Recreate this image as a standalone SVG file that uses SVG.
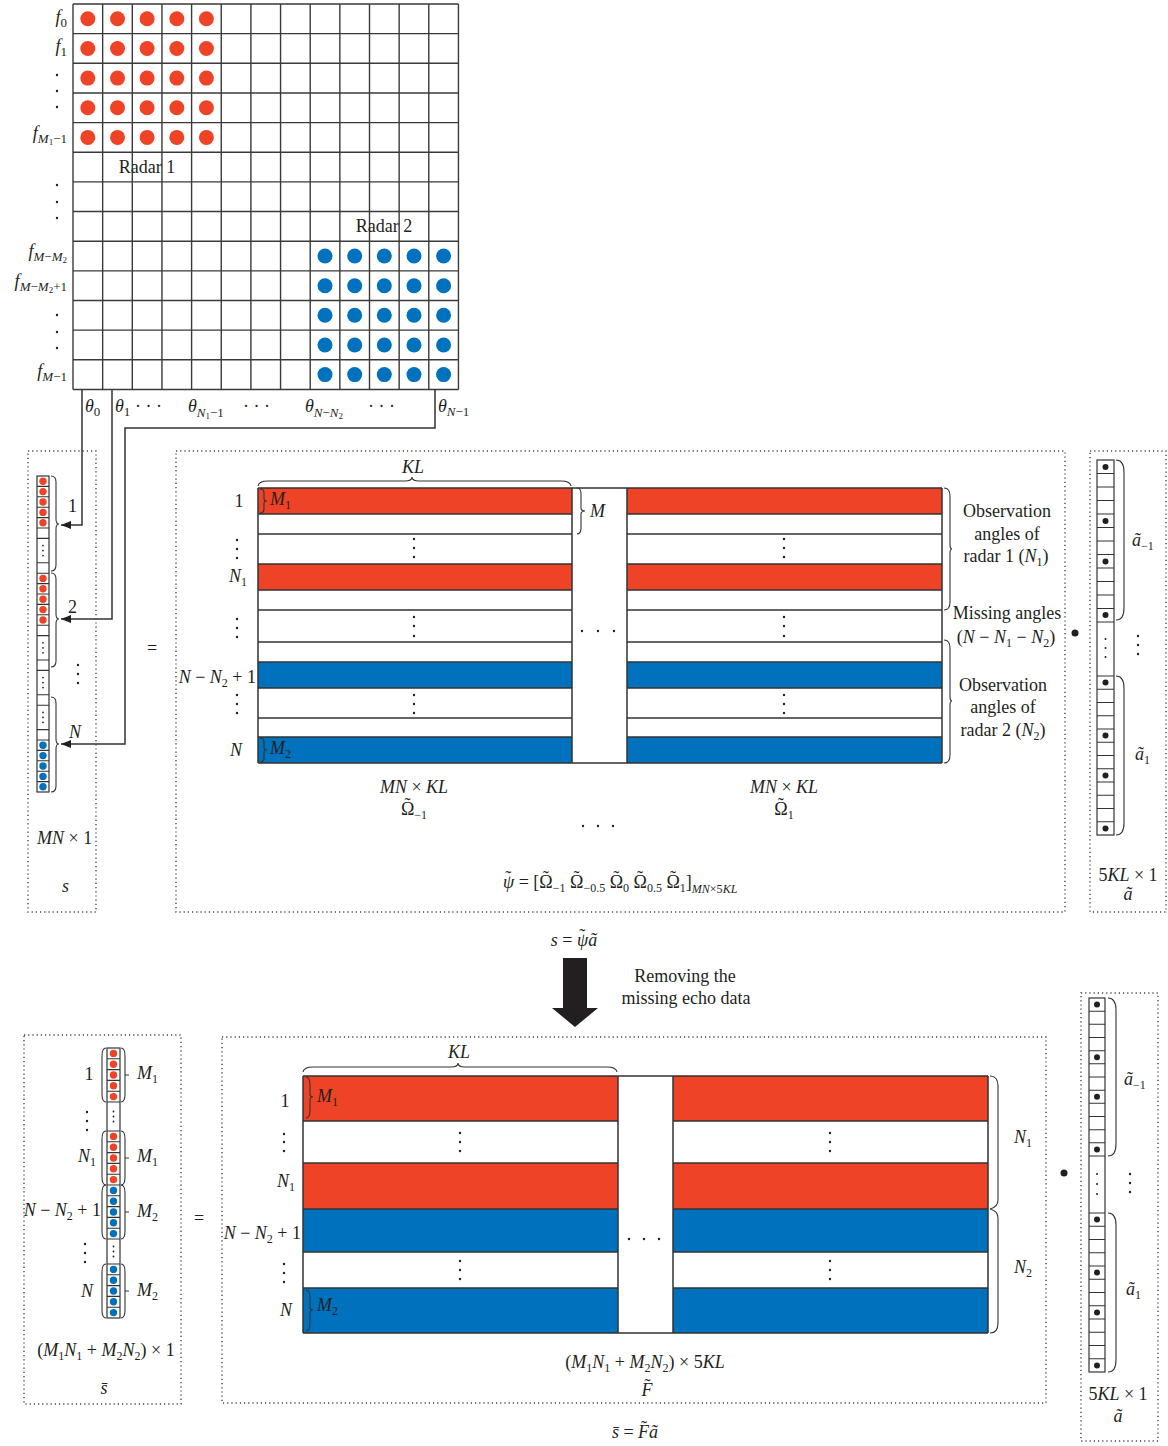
<svg xmlns="http://www.w3.org/2000/svg" width="1168" height="1446" viewBox="0 0 1168 1446">
<style>
.t{font-family:"Liberation Serif",serif;fill:#231f20;font-size:18px}
.i{font-style:italic}
.s{font-size:12px}
.ss{font-size:9px}
.c{text-anchor:middle}
.e{text-anchor:end}
.r{fill:#EE4326}
.b{fill:#0071BC}
.ln{stroke:#333;stroke-width:1.5;fill:none}
.gl{stroke:#3a3a3a;stroke-width:1.4;fill:none}
.thin{stroke:#333;stroke-width:1.1;fill:none}
.box{fill:none;stroke:#444;stroke-width:1.4;stroke-dasharray:1.2 3}
.dk{fill:#231f20}
.cell{fill:#fff;stroke:#333;stroke-width:1.2}
</style>
<defs>
<marker id="ah" viewBox="0 0 10 8" refX="10" refY="4" markerWidth="10" markerHeight="8" markerUnits="userSpaceOnUse" orient="auto">
<path d="M0,0 L10,4 L0,8 Z" fill="#231f20"/>
</marker>
</defs>
<rect width="1168" height="1446" fill="#fff"/>

<!-- Top grid -->
<g id="grid">
<rect x="73" y="4" width="385.45" height="385.45" fill="#fff"/>
<g class="r">
<circle cx="87.8" cy="18.8" r="7.5"/><circle cx="117.5" cy="18.8" r="7.5"/><circle cx="147.1" cy="18.8" r="7.5"/><circle cx="176.8" cy="18.8" r="7.5"/><circle cx="206.4" cy="18.8" r="7.5"/>
<circle cx="87.8" cy="48.5" r="7.5"/><circle cx="117.5" cy="48.5" r="7.5"/><circle cx="147.1" cy="48.5" r="7.5"/><circle cx="176.8" cy="48.5" r="7.5"/><circle cx="206.4" cy="48.5" r="7.5"/>
<circle cx="87.8" cy="78.1" r="7.5"/><circle cx="117.5" cy="78.1" r="7.5"/><circle cx="147.1" cy="78.1" r="7.5"/><circle cx="176.8" cy="78.1" r="7.5"/><circle cx="206.4" cy="78.1" r="7.5"/>
<circle cx="87.8" cy="107.8" r="7.5"/><circle cx="117.5" cy="107.8" r="7.5"/><circle cx="147.1" cy="107.8" r="7.5"/><circle cx="176.8" cy="107.8" r="7.5"/><circle cx="206.4" cy="107.8" r="7.5"/>
<circle cx="87.8" cy="137.4" r="7.5"/><circle cx="117.5" cy="137.4" r="7.5"/><circle cx="147.1" cy="137.4" r="7.5"/><circle cx="176.8" cy="137.4" r="7.5"/><circle cx="206.4" cy="137.4" r="7.5"/>
</g>
<g class="b">
<circle cx="325" cy="256" r="7.5"/><circle cx="354.7" cy="256" r="7.5"/><circle cx="384.3" cy="256" r="7.5"/><circle cx="414" cy="256" r="7.5"/><circle cx="443.6" cy="256" r="7.5"/>
<circle cx="325" cy="285.7" r="7.5"/><circle cx="354.7" cy="285.7" r="7.5"/><circle cx="384.3" cy="285.7" r="7.5"/><circle cx="414" cy="285.7" r="7.5"/><circle cx="443.6" cy="285.7" r="7.5"/>
<circle cx="325" cy="315.3" r="7.5"/><circle cx="354.7" cy="315.3" r="7.5"/><circle cx="384.3" cy="315.3" r="7.5"/><circle cx="414" cy="315.3" r="7.5"/><circle cx="443.6" cy="315.3" r="7.5"/>
<circle cx="325" cy="345" r="7.5"/><circle cx="354.7" cy="345" r="7.5"/><circle cx="384.3" cy="345" r="7.5"/><circle cx="414" cy="345" r="7.5"/><circle cx="443.6" cy="345" r="7.5"/>
<circle cx="325" cy="374.6" r="7.5"/><circle cx="354.7" cy="374.6" r="7.5"/><circle cx="384.3" cy="374.6" r="7.5"/><circle cx="414" cy="374.6" r="7.5"/><circle cx="443.6" cy="374.6" r="7.5"/>
</g>
<path class="gl" d="M73,4V389.45M102.65,4V389.45M132.3,4V389.45M161.95,4V389.45M191.6,4V389.45M221.25,4V389.45M250.9,4V389.45M280.55,4V389.45M310.2,4V389.45M339.85,4V389.45M369.5,4V389.45M399.15,4V389.45M428.8,4V389.45M458.45,4V389.45"/>
<path class="gl" d="M73,4H458.45M73,33.65H458.45M73,63.3H458.45M73,92.95H458.45M73,122.6H458.45M73,152.25H458.45M73,181.9H458.45M73,211.55H458.45M73,241.2H458.45M73,270.85H458.45M73,300.5H458.45M73,330.15H458.45M73,359.8H458.45M73,389.45H458.45"/>
<text class="t c" x="147" y="173">Radar 1</text>
<text class="t c" x="384" y="232">Radar 2</text>
</g>

<g id="freq-labels">
<text class="t e" x="67" y="23"><tspan class="i">f</tspan><tspan font-size="13" dy="4">0</tspan></text>
<text class="t e" x="67" y="52"><tspan class="i">f</tspan><tspan font-size="13" dy="4">1</tspan></text>
<g class="dk"><circle cx="57" cy="75" r="1.2"/><circle cx="57" cy="91" r="1.2"/><circle cx="57" cy="107" r="1.2"/>
<circle cx="57" cy="185" r="1.2"/><circle cx="57" cy="202" r="1.2"/><circle cx="57" cy="218" r="1.2"/>
<circle cx="57" cy="315" r="1.2"/><circle cx="57" cy="332" r="1.2"/><circle cx="57" cy="348" r="1.2"/></g>
<text class="t e" x="67" y="139"><tspan class="i">f</tspan><tspan font-size="13" class="i" dy="4">M</tspan><tspan class="ss" dy="2">1</tspan><tspan font-size="13" dy="-2">−1</tspan></text>
<text class="t e" x="67" y="257"><tspan class="i">f</tspan><tspan font-size="13" class="i" dy="4">M</tspan><tspan font-size="13">−</tspan><tspan font-size="13" class="i">M</tspan><tspan class="ss" dy="2">2</tspan></text>
<text class="t e" x="67" y="287"><tspan class="i">f</tspan><tspan font-size="13" class="i" dy="4">M</tspan><tspan font-size="13">−</tspan><tspan font-size="13" class="i">M</tspan><tspan class="ss" dy="2">2</tspan><tspan font-size="13" dy="-2">+1</tspan></text>
<text class="t e" x="67" y="377"><tspan class="i">f</tspan><tspan font-size="13" class="i" dy="4">M</tspan><tspan font-size="13">−1</tspan></text>
</g>

<g id="angle-labels">
<text class="t" x="85" y="412"><tspan class="i">θ</tspan><tspan font-size="13" dy="4">0</tspan></text>
<text class="t" x="115" y="412"><tspan class="i">θ</tspan><tspan font-size="13" dy="4">1</tspan></text>
<text class="t" x="135" y="412">·   ·   ·</text>
<text class="t" x="188" y="412"><tspan class="i">θ</tspan><tspan font-size="13" class="i" dy="5">N</tspan><tspan class="ss" dy="2">1</tspan><tspan font-size="13" dy="-2">−1</tspan></text>
<text class="t" x="243" y="412">·   ·   ·</text>
<text class="t" x="305" y="412"><tspan class="i">θ</tspan><tspan font-size="13" class="i" dy="5">N</tspan><tspan font-size="13">−</tspan><tspan font-size="13" class="i">N</tspan><tspan class="ss" dy="2">2</tspan></text>
<text class="t" x="368" y="412">·   ·   ·</text>
<text class="t" x="438" y="412"><tspan class="i">θ</tspan><tspan font-size="13" class="i" dy="4">N</tspan><tspan font-size="13">−1</tspan></text>
</g>

<g id="connectors">
<path class="ln" d="M82,389.5V525H61" marker-end="url(#ah)"/>
<path class="ln" d="M112,389.5V619H61" marker-end="url(#ah)"/>
<path class="ln" d="M435,389.5V428H125V744H61" marker-end="url(#ah)"/>
</g>

<!-- s vector -->
<g id="s-vector">
<rect class="box" x="28" y="451" width="68" height="461"/>
<rect class="cell" x="37" y="476" width="12" height="316"/>
<path class="thin" d="M37,486.4h12M37,496.8h12M37,507.2h12M37,517.6h12M37,528h12M37,538.4h12M37,562.8h12M37,573.2h12M37,583.6h12M37,594h12M37,604.4h12M37,614.8h12M37,625.2h12M37,635.6h12M37,660h12M37,670.4h12M37,694.8h12M37,705.2h12M37,729.6h12M37,740h12M37,750.4h12M37,760.8h12M37,771.2h12M37,781.6h12"/>
<g class="r"><circle cx="43" cy="481.2" r="3.7"/><circle cx="43" cy="491.6" r="3.7"/><circle cx="43" cy="502" r="3.7"/><circle cx="43" cy="512.4" r="3.7"/><circle cx="43" cy="522.8" r="3.7"/>
<circle cx="43" cy="578.4" r="3.7"/><circle cx="43" cy="588.8" r="3.7"/><circle cx="43" cy="599.2" r="3.7"/><circle cx="43" cy="609.6" r="3.7"/><circle cx="43" cy="620" r="3.7"/></g>
<g class="b"><circle cx="43" cy="745.2" r="3.7"/><circle cx="43" cy="755.6" r="3.7"/><circle cx="43" cy="766" r="3.7"/><circle cx="43" cy="776.4" r="3.7"/><circle cx="43" cy="786.8" r="3.7"/></g>
<g class="dk"><circle cx="43" cy="545.6" r="0.9"/><circle cx="43" cy="550.6" r="0.9"/><circle cx="43" cy="555.6" r="0.9"/>
<circle cx="43" cy="642.8" r="0.9"/><circle cx="43" cy="647.8" r="0.9"/><circle cx="43" cy="652.8" r="0.9"/>
<circle cx="43" cy="677.6" r="0.9"/><circle cx="43" cy="682.6" r="0.9"/><circle cx="43" cy="687.6" r="0.9"/>
<circle cx="43" cy="712.4" r="0.9"/><circle cx="43" cy="717.4" r="0.9"/><circle cx="43" cy="722.4" r="0.9"/>
<circle cx="78" cy="665" r="1.2"/><circle cx="78" cy="674" r="1.2"/><circle cx="78" cy="683" r="1.2"/></g>
<path class="thin" d="M51,476Q56,476 56,482V519Q56,524 59,524Q56,524 56,529V565Q56,571 51,571"/>
<path class="thin" d="M51,573Q56,573 56,579V614Q56,619 59,619Q56,619 56,624V661Q56,667 51,667"/>
<path class="thin" d="M51,697Q56,697 56,703V739Q56,744 59,744Q56,744 56,749V786Q56,792 51,792"/>
<text class="t" x="68" y="512">1</text>
<text class="t" x="68" y="613">2</text>
<text class="t i" x="69" y="738">N</text>
<text class="t" x="37" y="844"><tspan class="i">MN</tspan> × 1</text>
<text class="t i" x="62" y="892">s</text>
</g>

<text class="t c" x="152" y="654">=</text>

<!-- Psi matrix -->
<g id="psi-matrix">
<rect class="box" x="176" y="451" width="889" height="461"/>
<g class="r"><rect x="258" y="488" width="314" height="26"/><rect x="258" y="564" width="314" height="26"/>
<rect x="627" y="488" width="315" height="26"/><rect x="627" y="564" width="315" height="26"/></g>
<g class="b"><rect x="258" y="662" width="314" height="26"/><rect x="258" y="737" width="314" height="26"/>
<rect x="627" y="662" width="315" height="26"/><rect x="627" y="737" width="315" height="26"/></g>
<path class="ln" d="M258,488H942M258,763H942M258,488V763M572,488V763M627,488V763M942,488V763"/>
<path class="ln" d="M258,514H572M258,534H572M258,564H572M258,590H572M258,610H572M258,642H572M258,662H572M258,688H572M258,718H572M258,737H572"/>
<path class="ln" d="M627,514H942M627,534H942M627,564H942M627,590H942M627,610H942M627,642H942M627,662H942M627,688H942M627,718H942M627,737H942"/>
<g class="dk">
<circle cx="414" cy="539" r="1.2"/><circle cx="414" cy="548" r="1.2"/><circle cx="414" cy="557" r="1.2"/>
<circle cx="414" cy="617" r="1.2"/><circle cx="414" cy="626" r="1.2"/><circle cx="414" cy="636" r="1.2"/>
<circle cx="414" cy="695" r="1.2"/><circle cx="414" cy="704" r="1.2"/><circle cx="414" cy="713" r="1.2"/>
<circle cx="784" cy="539" r="1.2"/><circle cx="784" cy="548" r="1.2"/><circle cx="784" cy="557" r="1.2"/>
<circle cx="784" cy="617" r="1.2"/><circle cx="784" cy="626" r="1.2"/><circle cx="784" cy="636" r="1.2"/>
<circle cx="784" cy="695" r="1.2"/><circle cx="784" cy="704" r="1.2"/><circle cx="784" cy="713" r="1.2"/>
<circle cx="237" cy="540" r="1.2"/><circle cx="237" cy="549" r="1.2"/><circle cx="237" cy="558" r="1.2"/>
<circle cx="237" cy="619" r="1.2"/><circle cx="237" cy="628" r="1.2"/><circle cx="237" cy="637" r="1.2"/>
<circle cx="237" cy="695" r="1.2"/><circle cx="237" cy="704" r="1.2"/><circle cx="237" cy="713" r="1.2"/>
<circle cx="582" cy="631" r="1.2"/><circle cx="598" cy="631" r="1.2"/><circle cx="614" cy="631" r="1.2"/>
</g>
<path class="thin" d="M258,486Q259,481 268,481H405Q412,481 412,477Q412,481 419,481H561Q570,481 571,486"/>
<path class="thin" d="M260,489Q264,489 264,493V499Q264,501 267,501Q264,501 264,503V509Q264,513 260,513"/>
<path class="thin" d="M260,738Q264,738 264,742V748Q264,750 267,750Q264,750 264,752V758Q264,762 260,762"/>
<path class="thin" d="M577,488Q581,488 581,494V508Q581,511 585,511Q581,511 581,514V528Q581,534 577,534"/>
<path class="thin" d="M944,488Q950,488 950,496V545Q950,549 952,549Q950,549 950,553V602Q950,610 944,610"/>
<path class="thin" d="M944,640Q950,640 950,648V697Q950,701 952,701Q950,701 950,705V755Q950,763 944,763"/>
<text class="t i c" x="413" y="473">KL</text>
<text class="t i" x="270" y="505">M<tspan class="s" font-style="normal" dy="4">1</tspan></text>
<text class="t i" x="270" y="754">M<tspan class="s" font-style="normal" dy="4">2</tspan></text>
<text class="t i" x="590" y="517">M</text>
<text class="t c" x="239" y="507">1</text>
<text class="t e" x="247" y="582"><tspan class="i">N</tspan><tspan class="s" dy="4">1</tspan></text>
<text class="t e" x="256" y="683"><tspan class="i">N</tspan> − <tspan class="i">N</tspan><tspan class="s" dy="4">2</tspan><tspan dy="-4"> + 1</tspan></text>
<text class="t i c" x="236" y="756">N</text>
<text class="t c" x="1007" y="517">Observation</text>
<text class="t c" x="1007" y="540">angles of</text>
<text class="t c" x="1006" y="562">radar 1 (<tspan class="i">N</tspan><tspan class="s" dy="4">1</tspan><tspan dy="-4">)</tspan></text>
<text class="t c" x="1007" y="619">Missing angles</text>
<text class="t c" x="1006" y="643">(<tspan class="i">N</tspan> − <tspan class="i">N</tspan><tspan class="s" dy="4">1</tspan><tspan dy="-4"> − </tspan><tspan class="i">N</tspan><tspan class="s" dy="4">2</tspan><tspan dy="-4">)</tspan></text>
<text class="t c" x="1003" y="691">Observation</text>
<text class="t c" x="1003" y="713">angles of</text>
<text class="t c" x="1003" y="736">radar 2 (<tspan class="i">N</tspan><tspan class="s" dy="4">2</tspan><tspan dy="-4">)</tspan></text>
<text class="t c" x="414" y="793"><tspan class="i">MN</tspan> × <tspan class="i">KL</tspan></text>
<text class="t c" x="414" y="815">Ω<tspan dx="-9.9" dy="-4">˜</tspan><tspan class="s" dx="3.9" dy="8">−1</tspan></text>
<text class="t c" x="784" y="793"><tspan class="i">MN</tspan> × <tspan class="i">KL</tspan></text>
<text class="t c" x="784" y="815">Ω<tspan dx="-9.9" dy="-4">˜</tspan><tspan class="s" dx="3.9" dy="8">1</tspan></text>
<g class="dk"><circle cx="583" cy="826" r="1.2"/><circle cx="598" cy="826" r="1.2"/><circle cx="613" cy="826" r="1.2"/></g>
<text class="t" x="503" y="888"><tspan class="i">ψ</tspan><tspan dx="-9" dy="-4">˜</tspan><tspan dx="3" dy="4"> = [Ω</tspan><tspan dx="-9.9" dy="-4">˜</tspan><tspan class="s" dx="3.9" dy="8">−1</tspan><tspan dy="-4"> Ω</tspan><tspan dx="-9.9" dy="-4">˜</tspan><tspan class="s" dx="3.9" dy="8">−0.5</tspan><tspan dy="-4"> Ω</tspan><tspan dx="-9.9" dy="-4">˜</tspan><tspan class="s" dx="3.9" dy="8">0</tspan><tspan dy="-4"> Ω</tspan><tspan dx="-9.9" dy="-4">˜</tspan><tspan class="s" dx="3.9" dy="8">0.5</tspan><tspan dy="-4"> Ω</tspan><tspan dx="-9.9" dy="-4">˜</tspan><tspan class="s" dx="3.9" dy="8">1</tspan><tspan dy="-4">]</tspan><tspan class="s i" dy="5">MN</tspan><tspan class="s">×5</tspan><tspan class="s i">KL</tspan></text>
</g>

<circle class="dk" cx="1075" cy="633" r="3.5"/>

<!-- a vector top -->
<g id="a-vector-top">
<rect class="box" x="1090" y="451" width="76" height="461"/>
<rect class="cell" x="1097" y="460" width="17" height="375"/>
<path class="thin" d="M1097,473.5h17M1097,487h17M1097,500.5h17M1097,514h17M1097,527.5h17M1097,541h17M1097,554.5h17M1097,568h17M1097,581.5h17M1097,595h17M1097,608.5h17M1097,622h17M1097,676h17M1097,689.25h17M1097,702.5h17M1097,715.75h17M1097,729h17M1097,742.25h17M1097,755.5h17M1097,768.75h17M1097,782h17M1097,795.25h17M1097,808.5h17M1097,821.75h17"/>
<g class="dk"><circle cx="1105.5" cy="467" r="3"/><circle cx="1105.5" cy="521" r="3"/><circle cx="1105.5" cy="561.5" r="3"/><circle cx="1105.5" cy="615" r="3"/>
<circle cx="1105.5" cy="682.6" r="3"/><circle cx="1105.5" cy="735.6" r="3"/><circle cx="1105.5" cy="775.4" r="3"/><circle cx="1105.5" cy="828.4" r="3"/>
<circle cx="1105.5" cy="639" r="1"/><circle cx="1105.5" cy="648" r="1"/><circle cx="1105.5" cy="657" r="1"/>
<circle cx="1138" cy="636" r="1.2"/><circle cx="1138" cy="645" r="1.2"/><circle cx="1138" cy="654" r="1.2"/></g>
<path class="thin" d="M1116,460Q1124,460 1124,472V608Q1124,620 1116,620"/>
<path class="thin" d="M1116,676Q1124,676 1124,688V823Q1124,835 1116,835"/>
<text class="t i" x="1132" y="546">ã<tspan class="s" font-style="normal" dy="4">−1</tspan></text>
<text class="t i" x="1135" y="760">ã<tspan class="s" font-style="normal" dy="4">1</tspan></text>
<text class="t c" x="1128" y="881">5<tspan class="i">KL</tspan> × 1</text>
<text class="t i c" x="1128" y="900">ã</text>
</g>

<!-- transition -->
<g id="transition">
<text class="t c" x="574" y="946"><tspan class="i">s</tspan> = <tspan class="i">ψ</tspan><tspan dx="-9" dy="-4">˜</tspan><tspan class="i" dx="3" dy="4">ã</tspan></text>
<polygon class="dk" points="563,958 587,958 587,1008 598,1008 575,1027 552,1008 563,1008"/>
<text class="t c" x="685" y="982">Removing the</text>
<text class="t c" x="686" y="1004">missing echo data</text>
</g>

<!-- s bar vector -->
<g id="sbar-vector">
<rect class="box" x="24" y="1035" width="157" height="369"/>
<rect class="cell" x="107" y="1048" width="13" height="270"/>
<path class="thin" d="M107,1058.8h13M107,1069.6h13M107,1080.4h13M107,1091.2h13M107,1102h13M107,1131h13M107,1141.8h13M107,1152.6h13M107,1163.4h13M107,1174.2h13M107,1185h13M107,1195.8h13M107,1206.6h13M107,1217.4h13M107,1228.2h13M107,1239h13M107,1264h13M107,1274.8h13M107,1285.6h13M107,1296.4h13M107,1307.2h13"/>
<g class="r"><circle cx="113.5" cy="1053.4" r="3.7"/><circle cx="113.5" cy="1064.2" r="3.7"/><circle cx="113.5" cy="1075" r="3.7"/><circle cx="113.5" cy="1085.8" r="3.7"/><circle cx="113.5" cy="1096.6" r="3.7"/>
<circle cx="113.5" cy="1136.4" r="3.7"/><circle cx="113.5" cy="1147.2" r="3.7"/><circle cx="113.5" cy="1158" r="3.7"/><circle cx="113.5" cy="1168.8" r="3.7"/><circle cx="113.5" cy="1179.6" r="3.7"/></g>
<g class="b"><circle cx="113.5" cy="1190.4" r="3.7"/><circle cx="113.5" cy="1201.2" r="3.7"/><circle cx="113.5" cy="1212" r="3.7"/><circle cx="113.5" cy="1222.8" r="3.7"/><circle cx="113.5" cy="1233.6" r="3.7"/>
<circle cx="113.5" cy="1269.4" r="3.7"/><circle cx="113.5" cy="1280.2" r="3.7"/><circle cx="113.5" cy="1291" r="3.7"/><circle cx="113.5" cy="1301.8" r="3.7"/><circle cx="113.5" cy="1312.6" r="3.7"/></g>
<g class="dk"><circle cx="113.5" cy="1111.5" r="0.9"/><circle cx="113.5" cy="1116.5" r="0.9"/><circle cx="113.5" cy="1121.5" r="0.9"/>
<circle cx="113.5" cy="1246.5" r="0.9"/><circle cx="113.5" cy="1251.5" r="0.9"/><circle cx="113.5" cy="1256.5" r="0.9"/>
<circle cx="87" cy="1112" r="1.2"/><circle cx="87" cy="1121" r="1.2"/><circle cx="87" cy="1130" r="1.2"/>
<circle cx="85" cy="1244" r="1.2"/><circle cx="85" cy="1253" r="1.2"/><circle cx="85" cy="1262" r="1.2"/></g>
<path class="thin" d="M106,1048Q102,1048 102,1056V1094Q102,1102 106,1102M121,1048Q125,1048 125,1056V1094Q125,1102 121,1102M125,1075H129"/>
<path class="thin" d="M106,1131Q102,1131 102,1139V1177Q102,1185 106,1185M121,1131Q125,1131 125,1139V1177Q125,1185 121,1185M125,1158H129"/>
<path class="thin" d="M106,1185Q102,1185 102,1193V1231Q102,1239 106,1239M121,1185Q125,1185 125,1193V1231Q125,1239 121,1239M125,1212H129"/>
<path class="thin" d="M106,1264Q102,1264 102,1272V1310Q102,1318 106,1318M121,1264Q125,1264 125,1272V1310Q125,1318 121,1318M125,1291H129"/>
<text class="t c" x="89" y="1080">1</text>
<text class="t e" x="96" y="1162"><tspan class="i">N</tspan><tspan class="s" dy="4">1</tspan></text>
<text class="t e" x="101" y="1216"><tspan class="i">N</tspan> − <tspan class="i">N</tspan><tspan class="s" dy="4">2</tspan><tspan dy="-4"> + 1</tspan></text>
<text class="t i c" x="87" y="1297">N</text>
<text class="t i" x="137" y="1079">M<tspan class="s" font-style="normal" dy="4">1</tspan></text>
<text class="t i" x="137" y="1162">M<tspan class="s" font-style="normal" dy="4">1</tspan></text>
<text class="t i" x="137" y="1217">M<tspan class="s" font-style="normal" dy="4">2</tspan></text>
<text class="t i" x="137" y="1296">M<tspan class="s" font-style="normal" dy="4">2</tspan></text>
<text class="t c" x="106" y="1356">(<tspan class="i">M</tspan><tspan class="s" dy="4">1</tspan><tspan class="i" dy="-4">N</tspan><tspan class="s" dy="4">1</tspan><tspan dy="-4"> + </tspan><tspan class="i">M</tspan><tspan class="s" dy="4">2</tspan><tspan class="i" dy="-4">N</tspan><tspan class="s" dy="4">2</tspan><tspan dy="-4">) × 1</tspan></text>
<text class="t i c" x="104" y="1394">s̄</text>
</g>

<text class="t c" x="199" y="1224">=</text>

<!-- F matrix -->
<g id="f-matrix">
<rect class="box" x="222" y="1037" width="824" height="366"/>
<g class="r"><rect x="303" y="1076" width="315" height="45"/><rect x="303" y="1163" width="315" height="46"/>
<rect x="673" y="1076" width="315" height="45"/><rect x="673" y="1163" width="315" height="46"/></g>
<g class="b"><rect x="303" y="1209" width="315" height="43"/><rect x="303" y="1288" width="315" height="45"/>
<rect x="673" y="1209" width="315" height="43"/><rect x="673" y="1288" width="315" height="45"/></g>
<path class="ln" d="M303,1076H988M303,1333H988M303,1076V1333M618,1076V1333M673,1076V1333M988,1076V1333"/>
<path class="ln" d="M303,1121H618M303,1163H618M303,1209H618M303,1252H618M303,1288H618M673,1121H988M673,1163H988M673,1209H988M673,1252H988M673,1288H988"/>
<g class="dk">
<circle cx="460" cy="1133" r="1.2"/><circle cx="460" cy="1142" r="1.2"/><circle cx="460" cy="1151" r="1.2"/>
<circle cx="460" cy="1261" r="1.2"/><circle cx="460" cy="1270" r="1.2"/><circle cx="460" cy="1279" r="1.2"/>
<circle cx="830" cy="1133" r="1.2"/><circle cx="830" cy="1142" r="1.2"/><circle cx="830" cy="1151" r="1.2"/>
<circle cx="830" cy="1261" r="1.2"/><circle cx="830" cy="1270" r="1.2"/><circle cx="830" cy="1279" r="1.2"/>
<circle cx="284" cy="1134" r="1.2"/><circle cx="284" cy="1142" r="1.2"/><circle cx="284" cy="1151" r="1.2"/>
<circle cx="284" cy="1264" r="1.2"/><circle cx="284" cy="1273" r="1.2"/><circle cx="284" cy="1282" r="1.2"/>
<circle cx="629" cy="1239" r="1.2"/><circle cx="644" cy="1239" r="1.2"/><circle cx="659" cy="1239" r="1.2"/>
</g>
<path class="thin" d="M303,1072Q304,1067 313,1067H451Q458,1067 458,1063Q458,1067 465,1067H607Q616,1067 617,1072"/>
<path class="thin" d="M306,1077Q310,1077 310,1085V1094Q310,1097 313,1097Q310,1097 310,1100V1110Q310,1118 306,1118"/>
<path class="thin" d="M306,1290Q310,1290 310,1298V1307Q310,1310 313,1310Q310,1310 310,1313V1323Q310,1331 306,1331"/>
<path class="thin" d="M990,1076Q998,1076 998,1086V1200Q998,1207 990,1209Q998,1211 998,1218V1323Q998,1333 990,1333"/>
<text class="t i c" x="459" y="1058">KL</text>
<text class="t i" x="317" y="1102">M<tspan class="s" font-style="normal" dy="4">1</tspan></text>
<text class="t i" x="317" y="1311">M<tspan class="s" font-style="normal" dy="4">2</tspan></text>
<text class="t c" x="285" y="1107">1</text>
<text class="t e" x="295" y="1187"><tspan class="i">N</tspan><tspan class="s" dy="4">1</tspan></text>
<text class="t e" x="301" y="1239"><tspan class="i">N</tspan> − <tspan class="i">N</tspan><tspan class="s" dy="4">2</tspan><tspan dy="-4"> + 1</tspan></text>
<text class="t i c" x="286" y="1316">N</text>
<text class="t i" x="1014" y="1143">N<tspan class="s" font-style="normal" dy="4">1</tspan></text>
<text class="t i" x="1014" y="1273">N<tspan class="s" font-style="normal" dy="4">2</tspan></text>
<text class="t c" x="645" y="1368">(<tspan class="i">M</tspan><tspan class="s" dy="4">1</tspan><tspan class="i" dy="-4">N</tspan><tspan class="s" dy="4">1</tspan><tspan dy="-4"> + </tspan><tspan class="i">M</tspan><tspan class="s" dy="4">2</tspan><tspan class="i" dy="-4">N</tspan><tspan class="s" dy="4">2</tspan><tspan dy="-4">) × 5</tspan><tspan class="i">KL</tspan></text>
<text class="t c" x="647" y="1396"><tspan class="i">F</tspan><tspan dx="-8" dy="-4">˜</tspan></text>
</g>

<circle class="dk" cx="1064" cy="1173" r="3.5"/>

<!-- a vector bottom -->
<g id="a-vector-bottom">
<rect class="box" x="1081" y="993" width="77" height="448"/>
<rect class="cell" x="1089" y="998" width="16" height="374"/>
<path class="thin" d="M1089,1011.2h16M1089,1024.3h16M1089,1037.5h16M1089,1050.7h16M1089,1063.8h16M1089,1077h16M1089,1090.2h16M1089,1103.3h16M1089,1116.5h16M1089,1129.7h16M1089,1142.8h16M1089,1156h16M1089,1213h16M1089,1226.25h16M1089,1239.5h16M1089,1252.75h16M1089,1266h16M1089,1279.25h16M1089,1292.5h16M1089,1305.75h16M1089,1319h16M1089,1332.25h16M1089,1345.5h16M1089,1358.75h16"/>
<g class="dk"><circle cx="1097" cy="1004.6" r="3"/><circle cx="1097" cy="1057.2" r="3"/><circle cx="1097" cy="1096.7" r="3"/><circle cx="1097" cy="1149.4" r="3"/>
<circle cx="1097" cy="1219.6" r="3"/><circle cx="1097" cy="1272.6" r="3"/><circle cx="1097" cy="1312.4" r="3"/><circle cx="1097" cy="1365.4" r="3"/>
<circle cx="1097" cy="1174" r="1"/><circle cx="1097" cy="1184" r="1"/><circle cx="1097" cy="1194" r="1"/>
<circle cx="1130" cy="1174" r="1.2"/><circle cx="1130" cy="1183" r="1.2"/><circle cx="1130" cy="1192" r="1.2"/></g>
<path class="thin" d="M1108,998Q1116,998 1116,1010V1144Q1116,1156 1108,1156"/>
<path class="thin" d="M1108,1213Q1116,1213 1116,1225V1360Q1116,1372 1108,1372"/>
<text class="t i" x="1124" y="1085">ã<tspan class="s" font-style="normal" dy="4">−1</tspan></text>
<text class="t i" x="1126" y="1295">ã<tspan class="s" font-style="normal" dy="4">1</tspan></text>
<text class="t c" x="1118" y="1400">5<tspan class="i">KL</tspan> × 1</text>
<text class="t i c" x="1118" y="1422">ã</text>
</g>

<text class="t c" x="635" y="1438"><tspan class="i">s̄</tspan> = <tspan class="i">F</tspan><tspan dx="-8" dy="-4">˜</tspan><tspan class="i" dx="2" dy="4">ã</tspan></text>
</svg>
